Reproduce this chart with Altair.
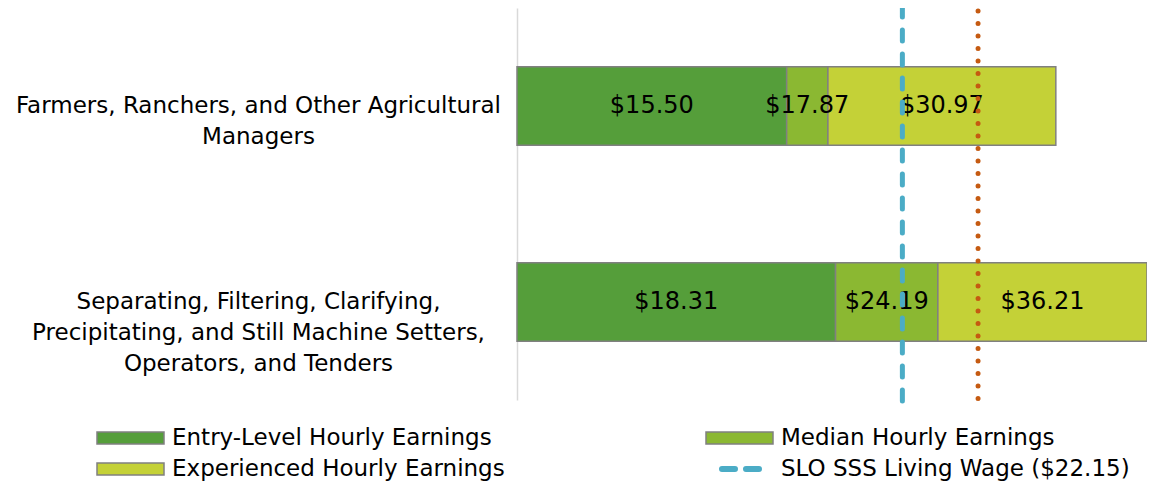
import altair as alt
import pandas as pd

# ---- data ----
occupations = [
    "Farmers, Ranchers, and Other Agricultural|Managers",
    "Separating, Filtering, Clarifying,|Precipitating, and Still Machine Setters,|Operators, and Tenders",
]
entry_level = [15.50, 18.31]
median = [17.87, 24.19]
experienced = [30.97, 36.21]

series_names = ["Entry-Level Hourly Earnings", "Median Hourly Earnings", "Experienced Hourly Earnings"]
series_colors = ["#559E3A", "#8BB832", "#C4D137"]

living_wage_label = "SLO SSS Living Wage ($22.15)"
living_wage = 22.15
second_wage = 26.50

FONT = "DejaVu Sans"
FS = 23

rows = []
for i, occ in enumerate(occupations):
    starts = [0, entry_level[i], median[i]]
    ends = [entry_level[i], median[i], experienced[i]]
    for s, a, b in zip(series_names, starts, ends):
        rows.append({"occ": occ, "series": s, "start": a, "end": b,
                     "label": f"${b:.2f}"})
bars_df = pd.DataFrame(rows)

y_enc = alt.Y("occ:N", sort=occupations, title=None,
              scale=alt.Scale(paddingInner=0.6, paddingOuter=0.3),
              axis=alt.Axis(labelExpr="split(datum.label, '|')", labelAlign="center",
                            labelPadding=259, labelFontSize=FS, labelFont=FONT,
                            labelColor="#000000", labelLineHeight=31, ticks=False,
                            tickSize=0, domainColor="#D9D9D9", domainWidth=1.5,
                            labelLimit=0))
x_scale = alt.Scale(domain=[0, 36.21], nice=False, zero=True)

bars = alt.Chart(bars_df).mark_bar(stroke="#808080", strokeWidth=1.5).encode(
    y=y_enc,
    x=alt.X("start:Q", scale=x_scale, axis=None),
    x2="end:Q",
    color=alt.Color("series:N", scale=alt.Scale(domain=series_names, range=series_colors), legend=None),
)

texts = alt.Chart(bars_df).transform_calculate(mid="(datum.start + datum.end) / 2").mark_text(
    fontSize=24, font=FONT, color="#000000"
).encode(
    y=alt.Y("occ:N", sort=occupations),
    x=alt.X("mid:Q", scale=x_scale),
    text="label:N",
)

wage_df = pd.DataFrame({"wage": [living_wage]})
wage2_df = pd.DataFrame({"wage": [second_wage]})

wage_rule = alt.Chart(wage_df).mark_rule(
    color="#4BACC6", strokeWidth=5, strokeDash=[11, 13], strokeCap="round", y=-2, y2=405 - 8
).encode(x=alt.X("wage:Q", scale=x_scale))

wage2_rule = alt.Chart(wage2_df).mark_rule(
    color="#C55A11", strokeWidth=5, strokeDash=[0.1, 12.4], strokeCap="round", y=3, y2=405 - 8
).encode(x=alt.X("wage:Q", scale=x_scale))

# ---- legend (custom) ----
leg_labels = series_names + [living_wage_label]
leg_col = [0, 1, 0, 1]
leg_row = [0, 0, 1, 1]
leg_kind = ["box", "box", "box", "line"]
leg_df = pd.DataFrame({"label": leg_labels, "col": leg_col, "row": leg_row, "kind": leg_kind})

lx = alt.X("col:Q", scale=alt.Scale(domain=[0, 1], range=[-420, 189], zero=False, nice=False), axis=None)
ly = alt.Y("row:Q", scale=alt.Scale(domain=[0, 1], range=[430, 461], zero=False, nice=False), axis=None)

leg_box = alt.Chart(leg_df).transform_filter("datum.kind == 'box'").mark_rect(
    stroke="#808080", strokeWidth=1.5, x2Offset=67, yOffset=-6, y2Offset=6
).encode(
    x=lx, x2="col:Q", y=ly, y2="row:Q",
    color=alt.Color("label:N", scale=alt.Scale(domain=series_names, range=series_colors), legend=None),
)

leg_line = alt.Chart(leg_df).transform_filter("datum.kind == 'line'").mark_rule(
    color="#4BACC6", strokeWidth=6, strokeDash=[13, 11], strokeCap="round", xOffset=16, x2Offset=64
).encode(x=lx, x2="col:Q", y=ly)

leg_text = alt.Chart(leg_df).mark_text(
    align="left", baseline="middle", dx=75, fontSize=FS, font=FONT, color="#000000"
).encode(x=lx, y=ly, text="label:N")

main = alt.layer(bars, texts, wage_rule, wage2_rule)
legend = alt.layer(leg_box, leg_line, leg_text)

chart = alt.layer(main, legend).resolve_scale(
    x="independent", y="independent", color="independent"
).properties(
    width=630, height=392,
    autosize=alt.AutoSizeParams(type="none"),
    padding={"left": 509, "top": 0, "right": 0, "bottom": 84},
).configure_view(stroke=None)

chart.save("out.html", embed_options={"renderer": "svg", "actions": False})
